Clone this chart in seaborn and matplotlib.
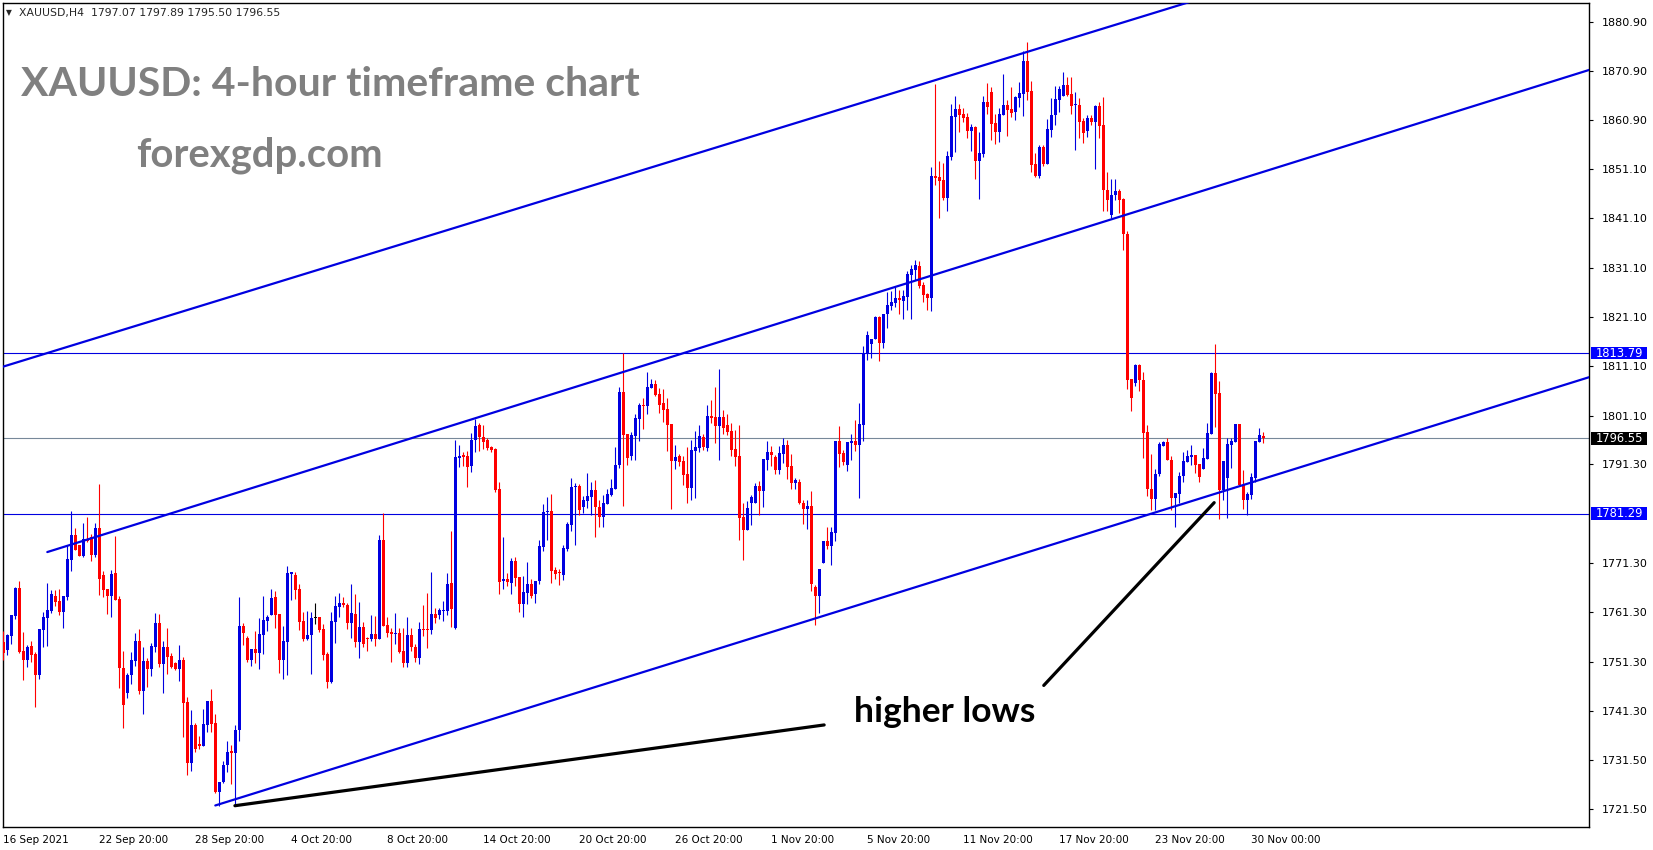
import numpy as np
import pandas as pd
import seaborn as sns
import matplotlib
matplotlib.use("Agg")
import matplotlib.pyplot as plt
from matplotlib.patches import Rectangle

# XAUUSD H4 candles, one entry per bar
opens = [
    1755.2, 1753.7, 1756.5, 1760.6, 1766.3, 1753.5, 1751.6, 1754.5, 1752.9, 1748.6,
    1757.7, 1760.2, 1761.6, 1764.6, 1763.6, 1761.4, 1764.5, 1771.9, 1776.9, 1774.9,
    1772.7, 1776.1, 1776.6, 1772.9, 1778.4, 1768.9, 1766.0, 1764.6, 1769.3, 1764.0,
    1750.0, 1745.0, 1748.6, 1751.4, 1755.5, 1745.4, 1751.4, 1749.9, 1754.2, 1759.1,
    1750.9, 1754.2, 1752.5, 1751.0, 1749.9, 1751.7, 1743.1, 1730.7, 1738.4, 1734.6,
    1734.3, 1738.4, 1743.4, 1738.8, 1724.9, 1727.0, 1730.4, 1733.0, 1732.9, 1737.5,
    1758.5, 1756.2, 1751.7, 1753.9, 1753.1, 1756.8, 1759.6, 1760.8, 1764.4, 1761.0,
    1751.7, 1755.2, 1769.1, 1768.9, 1766.0, 1759.6, 1755.9, 1756.7, 1760.1, 1760.4,
    1757.9, 1752.9, 1747.2, 1759.4, 1762.4, 1763.2, 1762.8, 1759.2, 1761.0, 1755.3,
    1758.3, 1756.1, 1755.9, 1756.9, 1755.9, 1775.9, 1758.7, 1757.3, 1756.9, 1757.1,
    1753.5, 1751.0, 1756.7, 1754.3, 1752.1, 1757.9, 1757.9, 1757.7, 1761.0, 1760.8,
    1761.6, 1761.6, 1767.2, 1758.1, 1792.6, 1793.2, 1793.0, 1791.0, 1796.1, 1799.2,
    1796.8, 1796.2, 1794.8, 1794.4, 1786.3, 1767.7, 1768.1, 1767.3, 1771.6, 1768.5,
    1762.9, 1765.3, 1767.0, 1765.1, 1767.6, 1774.6, 1781.6, 1781.8, 1769.9, 1769.5,
    1768.9, 1774.2, 1779.0, 1786.7, 1786.9, 1782.7, 1783.9, 1784.7, 1786.1, 1782.7,
    1780.5, 1783.3, 1785.1, 1786.3, 1791.1, 1805.9, 1797.4, 1793.0, 1797.0, 1800.5,
    1803.3, 1803.1, 1806.7, 1807.5, 1805.5, 1803.7, 1802.5, 1799.4, 1791.9, 1792.9,
    1791.9, 1789.3, 1786.5, 1794.0, 1794.6, 1796.8, 1794.6, 1801.1, 1800.9, 1799.0,
    1800.9, 1799.2, 1798.0, 1794.4, 1793.0, 1780.6, 1778.0, 1783.4, 1783.4, 1786.9,
    1785.9, 1792.2, 1793.8, 1792.8, 1790.1, 1793.4, 1795.2, 1790.9, 1787.5, 1787.7,
    1783.4, 1782.3, 1782.8, 1766.4, 1764.6, 1771.3, 1775.7, 1774.7, 1777.4, 1796.0,
    1793.6, 1791.1, 1795.6, 1796.0, 1795.2, 1799.2, 1813.6, 1815.6, 1816.6, 1821.1,
    1815.9, 1821.7, 1823.3, 1823.9, 1824.9, 1824.4, 1825.2, 1829.6, 1830.6, 1831.4,
    1827.6, 1825.7, 1824.9, 1849.6, 1849.4, 1848.8, 1845.2, 1853.5, 1861.6, 1863.2,
    1862.2, 1861.6, 1858.7, 1859.5, 1852.7, 1854.1, 1864.6, 1866.6, 1860.4, 1858.5,
    1862.0, 1864.0, 1863.2, 1862.6, 1865.4, 1866.2, 1872.9, 1866.8, 1852.1, 1849.6,
    1855.5, 1852.1, 1858.9, 1862.0, 1865.0, 1865.8, 1868.1, 1866.2, 1863.9, 1864.0,
    1860.8, 1858.7, 1861.4, 1860.6, 1863.8, 1860.0, 1846.8, 1841.7, 1845.7, 1846.6,
    1845.0, 1837.9, 1808.5, 1807.8, 1811.4, 1808.4, 1797.9, 1786.2, 1784.2, 1789.3,
    1795.0, 1795.8, 1792.1, 1784.4, 1785.3, 1788.9, 1791.7, 1792.8, 1793.2, 1791.3,
    1790.3, 1792.3, 1797.4, 1809.7, 1805.7, 1786.1, 1788.5, 1795.2, 1795.8, 1799.4,
    1787.1, 1784.1, 1785.1, 1788.5, 1795.8, 1797.07,
]
highs = [
    1757.5, 1756.9, 1760.8, 1766.5, 1767.6, 1757.3, 1754.7, 1755.5, 1753.3, 1757.9,
    1761.4, 1767.2, 1765.8, 1765.8, 1766.1, 1764.6, 1774.9, 1781.8, 1778.4, 1774.9,
    1779.4, 1780.6, 1777.1, 1779.4, 1787.3, 1769.7, 1766.0, 1769.9, 1776.7, 1764.6,
    1753.5, 1749.1, 1753.3, 1757.1, 1757.9, 1754.3, 1752.1, 1755.0, 1761.2, 1761.0,
    1755.4, 1758.2, 1753.1, 1751.3, 1754.7, 1752.3, 1744.2, 1741.6, 1738.8, 1736.3,
    1741.7, 1743.4, 1745.8, 1740.8, 1727.0, 1731.1, 1735.3, 1734.4, 1738.4, 1764.5,
    1759.1, 1756.6, 1753.9, 1757.6, 1760.2, 1764.6, 1760.8, 1766.0, 1765.7, 1761.0,
    1758.5, 1770.7, 1769.5, 1769.4, 1767.0, 1761.4, 1761.6, 1761.4, 1763.2, 1760.4,
    1758.9, 1753.3, 1761.4, 1764.6, 1765.2, 1764.4, 1763.2, 1767.0, 1765.0, 1763.4,
    1759.3, 1756.3, 1760.8, 1760.6, 1777.0, 1781.4, 1760.4, 1758.1, 1761.2, 1758.1,
    1758.1, 1760.4, 1758.1, 1754.9, 1759.4, 1762.8, 1765.2, 1769.5, 1762.2, 1762.2,
    1763.6, 1769.3, 1777.8, 1796.2, 1795.2, 1793.8, 1794.0, 1797.5, 1800.5, 1799.6,
    1799.2, 1796.6, 1795.0, 1794.6, 1787.7, 1776.5, 1769.3, 1772.2, 1772.4, 1768.5,
    1768.6, 1771.4, 1768.1, 1767.6, 1775.9, 1783.2, 1784.6, 1785.2, 1770.5, 1770.1,
    1774.9, 1779.5, 1788.5, 1787.5, 1787.3, 1784.9, 1789.5, 1787.7, 1788.1, 1784.0,
    1785.1, 1786.3, 1788.3, 1794.8, 1806.9, 1813.7, 1797.4, 1797.8, 1801.5, 1803.7,
    1804.7, 1810.0, 1808.5, 1808.3, 1806.7, 1806.5, 1804.7, 1799.4, 1795.2, 1793.4,
    1793.0, 1794.8, 1796.2, 1798.0, 1799.2, 1797.4, 1803.3, 1804.3, 1806.9, 1810.6,
    1802.3, 1801.5, 1799.6, 1798.2, 1799.2, 1783.4, 1783.8, 1785.1, 1787.5, 1787.9,
    1792.4, 1796.0, 1795.0, 1793.2, 1795.0, 1796.6, 1796.2, 1793.4, 1788.5, 1788.2,
    1784.0, 1784.0, 1785.9, 1766.8, 1770.1, 1775.7, 1778.6, 1778.6, 1796.0, 1799.0,
    1794.2, 1795.8, 1797.4, 1800.2, 1803.7, 1815.2, 1818.3, 1816.6, 1821.3, 1821.3,
    1821.7, 1826.1, 1826.4, 1827.2, 1826.6, 1826.5, 1830.3, 1831.6, 1832.6, 1832.4,
    1828.2, 1826.0, 1851.5, 1868.3, 1852.7, 1852.3, 1854.6, 1864.2, 1865.8, 1864.2,
    1863.4, 1862.4, 1860.1, 1859.7, 1858.5, 1865.8, 1868.5, 1867.6, 1862.2, 1863.4,
    1870.3, 1865.0, 1867.6, 1865.8, 1868.7, 1874.9, 1876.8, 1868.9, 1854.3, 1855.9,
    1855.9, 1861.2, 1865.5, 1867.9, 1867.9, 1870.7, 1869.7, 1869.7, 1866.6, 1865.4,
    1861.4, 1862.0, 1862.0, 1864.0, 1864.6, 1865.6, 1850.4, 1849.0, 1849.0, 1847.0,
    1845.2, 1838.5, 1808.5, 1811.6, 1811.6, 1810.0, 1799.3, 1793.3, 1790.3, 1795.7,
    1796.0, 1796.6, 1793.0, 1785.5, 1789.7, 1793.8, 1794.2, 1795.2, 1793.2, 1791.3,
    1794.6, 1799.6, 1810.0, 1815.6, 1808.1, 1791.9, 1796.6, 1796.6, 1799.4, 1799.4,
    1790.1, 1785.7, 1789.5, 1796.0, 1798.6, 1797.89,
]
lows = [
    1751.6, 1752.7, 1754.9, 1759.9, 1753.0, 1747.6, 1750.3, 1751.3, 1742.2, 1747.8,
    1754.3, 1754.5, 1761.1, 1762.6, 1760.8, 1758.2, 1763.8, 1769.7, 1773.9, 1772.6,
    1772.4, 1775.6, 1771.6, 1772.4, 1764.9, 1764.5, 1760.9, 1760.4, 1763.8, 1746.0,
    1737.9, 1744.0, 1746.8, 1750.4, 1744.8, 1740.7, 1746.2, 1748.5, 1753.3, 1750.3,
    1745.0, 1748.9, 1750.1, 1749.7, 1747.3, 1736.1, 1728.4, 1729.2, 1733.1, 1733.6,
    1734.3, 1737.0, 1737.0, 1724.8, 1722.0, 1726.7, 1729.0, 1726.5, 1722.0, 1735.3,
    1754.7, 1751.3, 1750.5, 1751.1, 1749.9, 1752.9, 1757.6, 1760.8, 1758.1, 1749.1,
    1747.9, 1748.7, 1763.8, 1763.9, 1757.8, 1755.4, 1755.7, 1748.8, 1759.0, 1757.3,
    1751.7, 1746.0, 1747.0, 1755.1, 1760.4, 1762.4, 1757.9, 1756.1, 1754.3, 1752.1,
    1754.3, 1753.5, 1755.5, 1754.5, 1755.9, 1758.5, 1756.3, 1751.3, 1754.9, 1753.1,
    1750.2, 1750.2, 1753.5, 1751.3, 1750.8, 1756.5, 1754.1, 1756.9, 1759.2, 1760.0,
    1759.6, 1760.8, 1758.4, 1757.9, 1790.8, 1791.0, 1786.7, 1789.7, 1793.8, 1794.0,
    1794.4, 1794.2, 1793.8, 1785.7, 1765.1, 1766.1, 1766.7, 1765.1, 1766.7, 1761.4,
    1760.4, 1762.9, 1764.1, 1763.1, 1767.1, 1773.8, 1775.9, 1767.3, 1768.1, 1766.9,
    1767.9, 1773.8, 1777.8, 1775.0, 1780.9, 1781.5, 1782.5, 1780.9, 1776.6, 1778.5,
    1778.6, 1783.2, 1784.9, 1786.3, 1790.5, 1782.8, 1791.1, 1792.1, 1792.1, 1796.0,
    1798.4, 1801.5, 1806.7, 1805.1, 1801.7, 1799.8, 1794.0, 1782.2, 1790.3, 1790.9,
    1787.1, 1783.4, 1784.0, 1784.4, 1793.8, 1794.2, 1794.0, 1799.6, 1795.6, 1792.1,
    1797.4, 1797.2, 1793.0, 1790.9, 1776.0, 1771.9, 1778.0, 1779.0, 1783.4, 1781.0,
    1782.7, 1790.1, 1790.9, 1789.3, 1789.3, 1791.5, 1788.2, 1786.3, 1786.3, 1783.2,
    1779.2, 1778.2, 1765.7, 1758.8, 1761.2, 1771.2, 1774.2, 1770.9, 1775.7, 1790.8,
    1791.1, 1789.9, 1792.2, 1794.0, 1784.5, 1795.9, 1812.3, 1812.7, 1816.6, 1812.2,
    1814.8, 1818.9, 1822.5, 1823.1, 1821.7, 1820.6, 1822.5, 1820.6, 1828.6, 1827.0,
    1824.2, 1822.5, 1822.2, 1847.9, 1841.1, 1844.8, 1842.5, 1852.9, 1854.5, 1858.6,
    1860.6, 1857.3, 1854.7, 1849.1, 1845.0, 1853.5, 1862.2, 1856.9, 1856.1, 1856.5,
    1862.0, 1857.7, 1861.6, 1861.0, 1863.6, 1861.8, 1865.0, 1850.4, 1849.4, 1849.2,
    1851.7, 1852.1, 1857.6, 1860.0, 1862.5, 1865.8, 1865.8, 1862.2, 1854.8, 1857.3,
    1856.3, 1857.6, 1860.0, 1851.1, 1857.3, 1842.5, 1842.6, 1841.1, 1844.8, 1842.1,
    1834.7, 1806.6, 1802.1, 1807.2, 1806.2, 1792.6, 1784.9, 1782.1, 1782.1, 1788.8,
    1795.0, 1792.1, 1782.0, 1778.6, 1783.4, 1787.7, 1791.7, 1791.1, 1789.5, 1787.7,
    1790.3, 1792.3, 1797.4, 1798.8, 1780.2, 1784.1, 1780.4, 1790.5, 1795.8, 1787.1,
    1782.2, 1781.0, 1784.3, 1787.7, 1795.8, 1795.50,
]
closes = [
    1753.0, 1756.7, 1760.8, 1766.3, 1753.3, 1751.6, 1754.3, 1752.7, 1748.6, 1757.9,
    1760.3, 1761.8, 1765.0, 1763.4, 1761.4, 1764.6, 1772.1, 1776.9, 1773.9, 1772.7,
    1776.1, 1775.7, 1772.9, 1778.4, 1768.1, 1765.8, 1764.6, 1769.1, 1763.8, 1750.0,
    1742.5, 1748.6, 1751.6, 1755.5, 1745.4, 1751.4, 1749.8, 1754.4, 1759.1, 1750.9,
    1754.2, 1752.3, 1750.3, 1749.9, 1751.7, 1743.0, 1730.7, 1738.4, 1733.7, 1734.3,
    1738.6, 1743.4, 1738.6, 1724.9, 1727.0, 1730.4, 1733.0, 1732.9, 1737.5, 1758.5,
    1757.2, 1751.7, 1753.9, 1753.1, 1756.9, 1759.7, 1760.4, 1764.2, 1760.8, 1751.7,
    1755.4, 1769.3, 1769.4, 1765.9, 1759.4, 1755.9, 1756.7, 1760.2, 1760.1, 1757.7,
    1752.7, 1747.2, 1759.6, 1762.6, 1763.2, 1762.8, 1759.2, 1761.2, 1755.3, 1758.3,
    1754.9, 1755.9, 1756.9, 1755.9, 1775.9, 1758.5, 1757.1, 1756.9, 1757.1, 1753.3,
    1751.0, 1756.7, 1754.3, 1752.1, 1757.9, 1757.7, 1757.7, 1761.0, 1760.2, 1761.8,
    1761.8, 1767.0, 1761.9, 1792.8, 1792.8, 1792.8, 1790.8, 1796.2, 1799.0, 1796.7,
    1795.8, 1794.6, 1794.2, 1786.1, 1767.5, 1768.1, 1767.5, 1771.6, 1768.3, 1762.9,
    1765.4, 1767.0, 1764.7, 1767.6, 1774.7, 1781.6, 1781.8, 1769.7, 1769.1, 1769.3,
    1774.3, 1779.2, 1786.7, 1786.9, 1782.1, 1784.1, 1784.9, 1786.1, 1782.7, 1780.5,
    1783.4, 1785.3, 1786.5, 1791.1, 1805.9, 1797.2, 1792.5, 1797.2, 1800.6, 1803.3,
    1803.1, 1806.9, 1807.5, 1805.3, 1803.3, 1802.3, 1799.2, 1791.9, 1792.7, 1791.7,
    1789.1, 1786.5, 1794.2, 1794.8, 1797.0, 1794.8, 1801.1, 1800.6, 1799.0, 1800.9,
    1798.6, 1797.8, 1794.2, 1792.7, 1780.4, 1778.0, 1782.4, 1784.7, 1786.9, 1785.9,
    1792.4, 1793.8, 1793.2, 1790.1, 1793.6, 1795.2, 1790.8, 1787.5, 1788.1, 1783.4,
    1782.3, 1782.8, 1767.1, 1764.6, 1770.1, 1775.7, 1774.7, 1777.6, 1796.0, 1793.4,
    1791.8, 1795.8, 1796.0, 1795.2, 1799.4, 1813.6, 1817.4, 1816.6, 1821.1, 1815.9,
    1821.7, 1823.5, 1824.1, 1824.9, 1824.5, 1825.4, 1829.8, 1830.8, 1831.6, 1827.4,
    1825.5, 1824.9, 1849.6, 1849.3, 1848.7, 1845.2, 1853.7, 1861.8, 1863.2, 1862.0,
    1861.4, 1858.7, 1859.5, 1852.7, 1854.3, 1864.6, 1863.6, 1860.2, 1858.5, 1862.2,
    1864.0, 1863.0, 1862.4, 1865.6, 1866.4, 1872.9, 1866.6, 1851.9, 1849.6, 1855.5,
    1852.1, 1859.1, 1862.0, 1865.2, 1867.2, 1868.1, 1866.1, 1863.8, 1864.0, 1860.6,
    1858.3, 1861.4, 1860.6, 1863.8, 1859.8, 1846.7, 1844.8, 1845.8, 1846.6, 1844.8,
    1837.8, 1808.4, 1804.6, 1811.4, 1808.3, 1797.7, 1786.2, 1784.2, 1789.3, 1795.3,
    1795.8, 1792.1, 1784.4, 1785.5, 1788.9, 1791.9, 1793.0, 1793.2, 1791.1, 1788.7,
    1792.5, 1797.6, 1809.7, 1805.5, 1786.1, 1791.9, 1795.4, 1796.0, 1799.4, 1787.1,
    1784.1, 1785.3, 1788.7, 1796.0, 1797.2, 1796.55,
]

# axis labels
date_ticks = [0, 24, 48, 72, 96, 120, 144, 168, 192, 216, 240, 264, 288, 312]
date_labels = ["16 Sep 2021", "22 Sep 20:00", "28 Sep 20:00", "4 Oct 20:00",
               "8 Oct 20:00", "14 Oct 20:00", "20 Oct 20:00", "26 Oct 20:00",
               "1 Nov 20:00", "5 Nov 20:00", "11 Nov 20:00", "17 Nov 20:00",
               "23 Nov 20:00", "30 Nov 00:00"]
price_ticks = [1880.90, 1870.90, 1860.90, 1851.10, 1841.10, 1831.10, 1821.10,
               1811.10, 1801.10, 1791.30, 1771.30, 1761.30, 1751.30, 1741.30,
               1731.50, 1721.50]

resistance = 1813.79
support = 1781.29
bid = 1796.55

# trend lines (bar index, price)
upper_x, upper_y = [-1, 400], [1810.8, 1910.6]
middle_x, middle_y = [11, 400], [1773.5, 1872.0]
lower_x, lower_y = [53, 400], [1722.2, 1809.8]
lows_line_x, lows_line_y = [57.9, 205.2], [1722.15, 1738.5]
pointer_x, pointer_y = [260.1, 302.7], [1746.5, 1783.5]

BLUE = "#0000E0"
RED = "#FF0000"

sns.set_style("white")
plt.rcParams['font.family'] = ['DejaVu Sans']

df = pd.DataFrame({"open": opens, "high": highs, "low": lows, "close": closes})
df["bar"] = np.arange(len(df))
df["color"] = np.where(df.close > df.open, BLUE, np.where(df.close < df.open, RED, "black"))
df["body_lo"] = df[["open", "close"]].min(axis=1)
df["body_h"] = (df.close - df.open).abs().clip(lower=0.25)

W, H = 1653, 850
fig = plt.figure(figsize=(W / 100, H / 100), dpi=100)
ax = fig.add_axes([2.5 / W, 1 - 827 / H, 1586.5 / W, 824.5 / H])

# candles
ax.vlines(df.bar, df.low, df.high, colors=df.color, linewidth=0.8, zorder=3)
ax.bar(df.bar, df.body_h, bottom=df.body_lo, width=0.75, color=df.color,
       linewidth=0, zorder=3)

# horizontal levels
ax.axhline(resistance, color=BLUE, linewidth=0.8, zorder=2)
ax.axhline(support, color=BLUE, linewidth=0.8, zorder=2)
ax.axhline(bid, color="#778899", linewidth=0.8, zorder=2)

# channel lines
for lx, ly in [(upper_x, upper_y), (middle_x, middle_y), (lower_x, lower_y)]:
    sns.lineplot(x=lx, y=ly, ax=ax, color=BLUE, linewidth=1.6, zorder=4)
for lx, ly in [(lows_line_x, lows_line_y), (pointer_x, pointer_y)]:
    sns.lineplot(x=lx, y=ly, ax=ax, color="black", linewidth=2.3, zorder=5)

ax.text(212.7, 1741.2, "higher lows", fontsize=25.5, fontweight="bold",
        family="Lato", color="black", va="center", ha="left", zorder=6)

ax.set_xlim(-0.2, 396.4)
ax.set_ylim(1717.84, 1884.75)

# right price axis
ax.yaxis.tick_right()
ax.set_yticks(price_ticks)
ax.set_yticklabels([f"{p:.2f}" for p in price_ticks])
ax.tick_params(axis="y", length=3, width=0.8, direction="out", labelsize=8,
               pad=6, colors="black")
ax.set_xticks(date_ticks)
ax.set_xticklabels(date_labels, ha="left")
ax.tick_params(axis="x", length=4, width=0.8, direction="out", labelsize=7.5,
               pad=2, colors="black")
ax.set_xlabel("")
ax.set_ylabel("")
for s in ax.spines.values():
    s.set_color("black")
    s.set_linewidth(1)
    s.set_visible(True)

# price boxes on the axis
ytr = ax.get_yaxis_transform()
for level, bg in [(resistance, "#0000FF"), (support, "#0000FF"), (bid, "black")]:
    ax.add_patch(Rectangle((1.0015, level - 1.3), 0.0353, 2.6, transform=ytr,
                           facecolor=bg, edgecolor="none", clip_on=False, zorder=6))
    ax.text(1.0040, level, f"{level:.2f}", transform=ytr, color="white",
            fontsize=8.3, va="center", ha="left", clip_on=False, zorder=7)

# header and titles
fig.text(6 / W, 1 - 13 / H, "\u25BC", fontsize=5.5, va="center", ha="left")
fig.text(19 / W, 1 - 13 / H, "XAUUSD,H4  1797.07 1797.89 1795.50 1796.55",
         fontsize=7.8, va="center", ha="left")
fig.text(21 / W, 1 - 96 / H, "XAUUSD: 4-hour timeframe chart", fontsize=29.5,
         fontweight="bold", family="Lato", color="#808080", va="baseline")
fig.text(136 / W, 1 - 167 / H, "forexgdp.com", fontsize=28.8,
         fontweight="bold", family="Lato", color="#808080", va="baseline")

fig.savefig("out.png", dpi=100, facecolor="white")
